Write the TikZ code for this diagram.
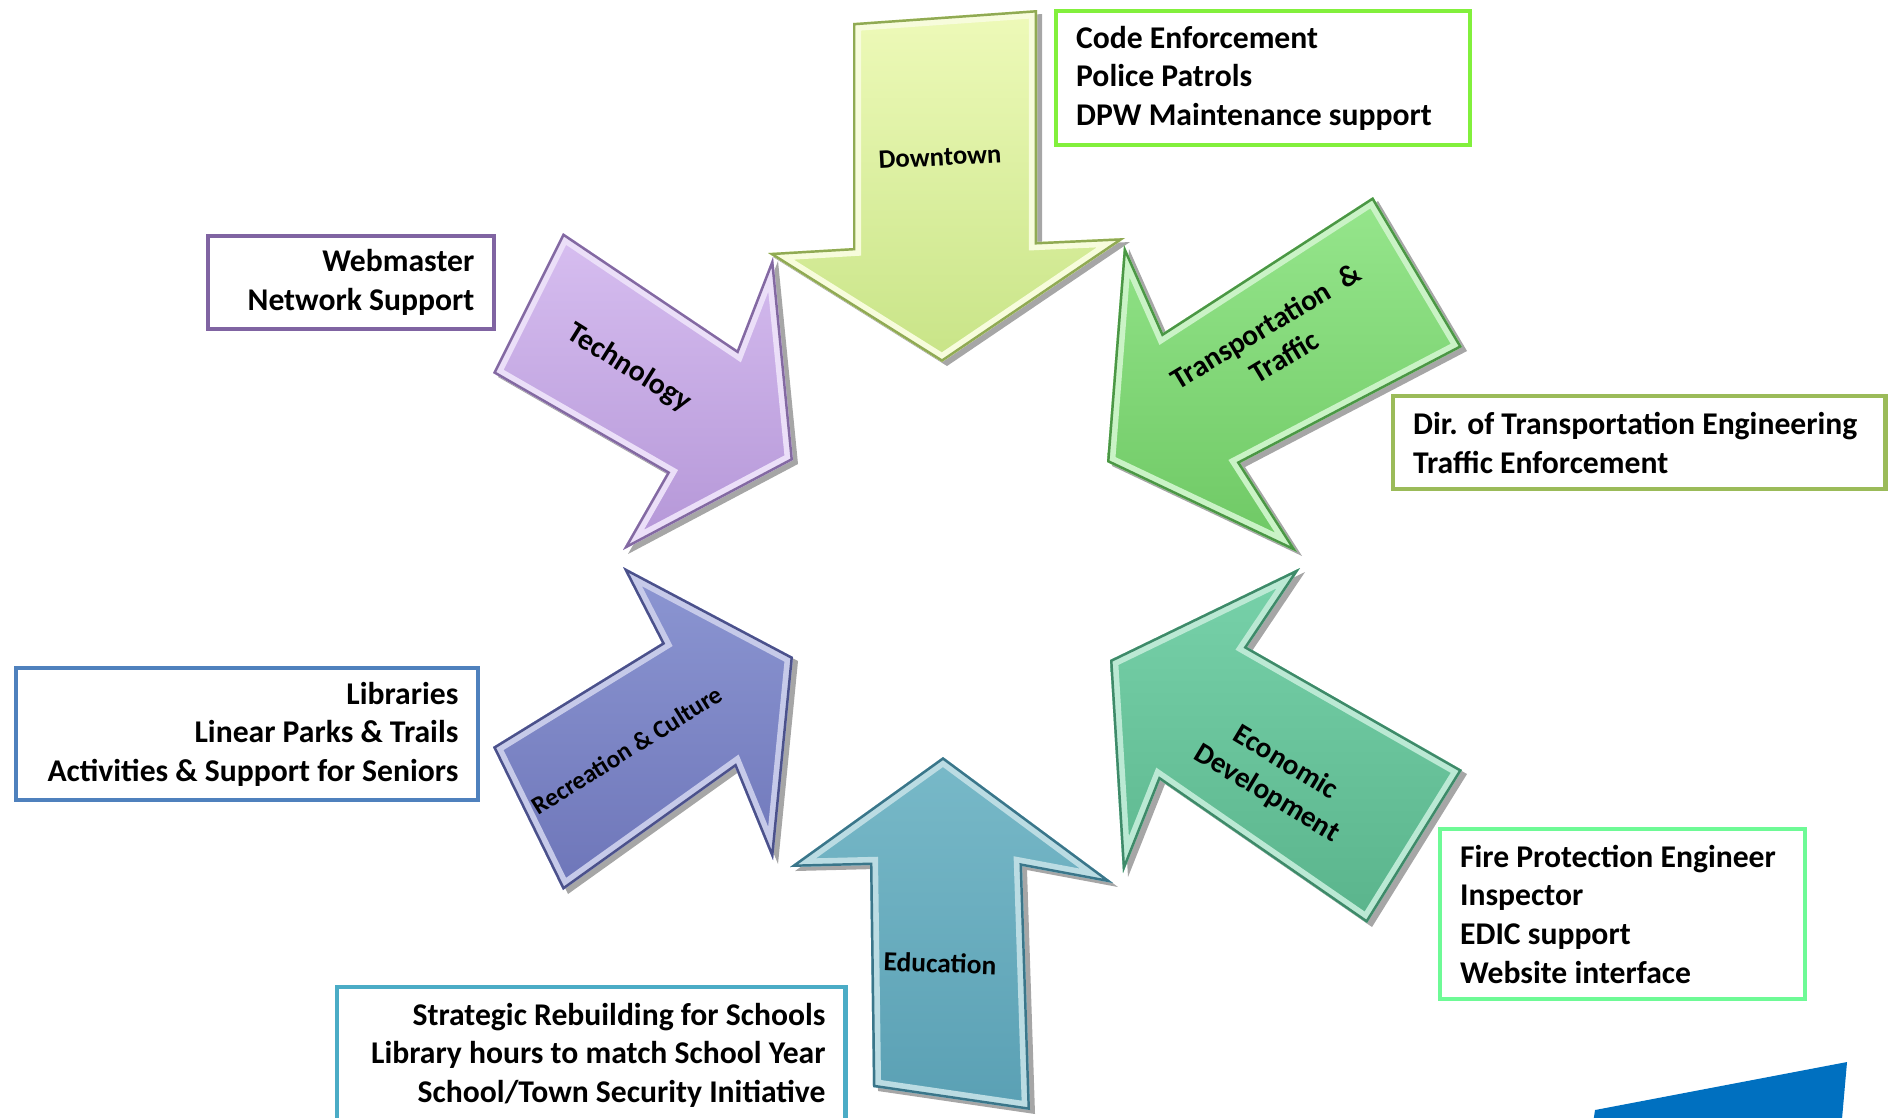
\documentclass[tikz,border=0pt]{standalone}
\usepackage{fontspec}
\setmainfont{Carlito}
\definecolor{dttop}{RGB}{238,250,185}
\definecolor{dtbot}{RGB}{200,228,135}
\definecolor{dtedge}{RGB}{120,145,60}
\definecolor{tctop}{RGB}{215,190,240}
\definecolor{tcbot}{RGB}{180,150,215}
\definecolor{tcedge}{RGB}{110,85,140}
\definecolor{trtop}{RGB}{150,230,140}
\definecolor{trbot}{RGB}{110,200,100}
\definecolor{tredge}{RGB}{60,130,55}
\definecolor{ectop}{RGB}{120,210,170}
\definecolor{ecbot}{RGB}{90,180,140}
\definecolor{ecedge}{RGB}{50,120,90}
\definecolor{rctop}{RGB}{140,150,210}
\definecolor{rcbot}{RGB}{110,118,185}
\definecolor{rcedge}{RGB}{60,65,120}
\definecolor{edtop}{RGB}{120,185,200}
\definecolor{edbot}{RGB}{90,160,180}
\definecolor{ededge}{RGB}{45,100,120}
\definecolor{dtbox}{RGB}{130,240,60}
\definecolor{tcbox}{RGB}{128,100,162}
\definecolor{trbox}{RGB}{155,187,89}
\definecolor{rcbox}{RGB}{79,129,189}
\definecolor{ecbox}{RGB}{110,250,150}
\definecolor{edbox}{RGB}{75,172,198}
\definecolor{ribbon}{RGB}{0,112,192}
% shadow, shaded body and bevel of one arrow
\newcommand{\bevelarrow}[4]{%
  \fill[black,opacity=.35,shift={(5,4)}] #4;
  \shade[top color=#1,bottom color=#2] #4;
  \begin{scope}
    \clip #4;
    \draw[line width=4.6pt,#1!50!white] #4;
    \draw[line width=1.4pt,#3!70!#2] #4;
  \end{scope}
}
\tikzset{
  infobox/.style={draw,line width=1.2pt,anchor=north west,inner xsep=0.2cm,inner ysep=0pt,
    font=\fontsize{9}{11}\selectfont\bfseries},
  armlabel/.style={font=\fontsize{#1}{10.2}\selectfont\bfseries,align=center}
}
\begin{document}
\begin{tikzpicture}[x=0.01cm,y=-0.01cm]
\useasboundingbox (0,0) rectangle (1892,1117);
\clip (0,0) rectangle (1892,1117);
% Arrows pointing to the middle
\bevelarrow{dttop}{dtbot}{dtedge}{(853,23) -- (1037,10) -- (1037,242) -- (1125,238) -- (942,362) -- (768,253) -- (853,248) -- cycle}
\node[armlabel=7.6,rotate=3] (downtown) at (940,157) {Downtown};
\bevelarrow{tctop}{tcbot}{tcedge}{(563,233) -- (737,350) -- (773,257) -- (793,460) -- (623,550) -- (667,473) -- (493,373) -- cycle}
\node[armlabel=8.5,rotate=-32] (technology) at (629,368) {Technology};
\bevelarrow{trtop}{trbot}{tredge}{(1373,197) -- (1462,347) -- (1240,463) -- (1297,552) -- (1107,462) -- (1124,245) -- (1163,333) -- cycle}
\node[armlabel=8.4,rotate=31] (transport) at (1275,341) {Transportation\enspace\&\\Traffic};
\bevelarrow{ectop}{ecbot}{ecedge}{(1462,770) -- (1367,923) -- (1160,780) -- (1123,873) -- (1110,660) -- (1300,568) -- (1247,647) -- cycle}
\node[armlabel=8.3,rotate=-31] (economic) at (1276,778) {Economic\\Development};
\bevelarrow{rctop}{rcbot}{rcedge}{(563,890) -- (493,747) -- (662,643) -- (623,567) -- (793,657) -- (773,860) -- (735,767) -- cycle}
\node[armlabel=7.2,rotate=32] (recreation) at (627,750) {Recreation \& Culture};
\bevelarrow{edtop}{edbot}{ededge}{(943,757) -- (1113,883) -- (1022,866) -- (1030,1110) -- (873,1087) -- (870,865) -- (790,867) -- cycle}
\node[armlabel=7.8,rotate=-2] (education) at (940,963) {Education};
% Boxes with the duties
\node[infobox,draw=dtbox,minimum width=4.14cm,minimum height=1.34cm,text width=3.74cm,align=flush left]
  (dtduties) at (1054,9) {Code Enforcement\\Police Patrols\\DPW Maintenance support};
\node[infobox,draw=tcbox,minimum width=2.86cm,minimum height=0.93cm,text width=2.46cm,align=flush right]
  (tcduties) at (206,234) {Webmaster\\Network Support};
\node[infobox,draw=trbox,minimum width=4.92cm,minimum height=0.93cm,text width=4.52cm,align=flush left]
  (trduties) at (1391,394) {Dir. of Transportation Engineering\\Traffic Enforcement};
\node[infobox,draw=rcbox,minimum width=4.62cm,minimum height=1.32cm,text width=4.22cm,align=flush right]
  (rcduties) at (14,666) {Libraries\\Linear Parks \& Trails\\Activities \& Support for Seniors};
\node[infobox,draw=ecbox,minimum width=3.65cm,minimum height=1.70cm,text width=3.25cm,align=flush left]
  (ecduties) at (1438,827) {Fire Protection Engineer\\Inspector\\EDIC support\\Website interface};
\node[infobox,draw=edbox,minimum width=5.08cm,minimum height=1.36cm,text width=4.68cm,align=flush right]
  (edduties) at (335,985) {Strategic Rebuilding for Schools\\Library hours to match School Year\\School/Town Security Initiative};
% Corner ribbon
\fill[ribbon] (1595,1110) -- (1847,1062) -- (1841,1130) -- (1592,1130) -- cycle;
\end{tikzpicture}
\end{document}
